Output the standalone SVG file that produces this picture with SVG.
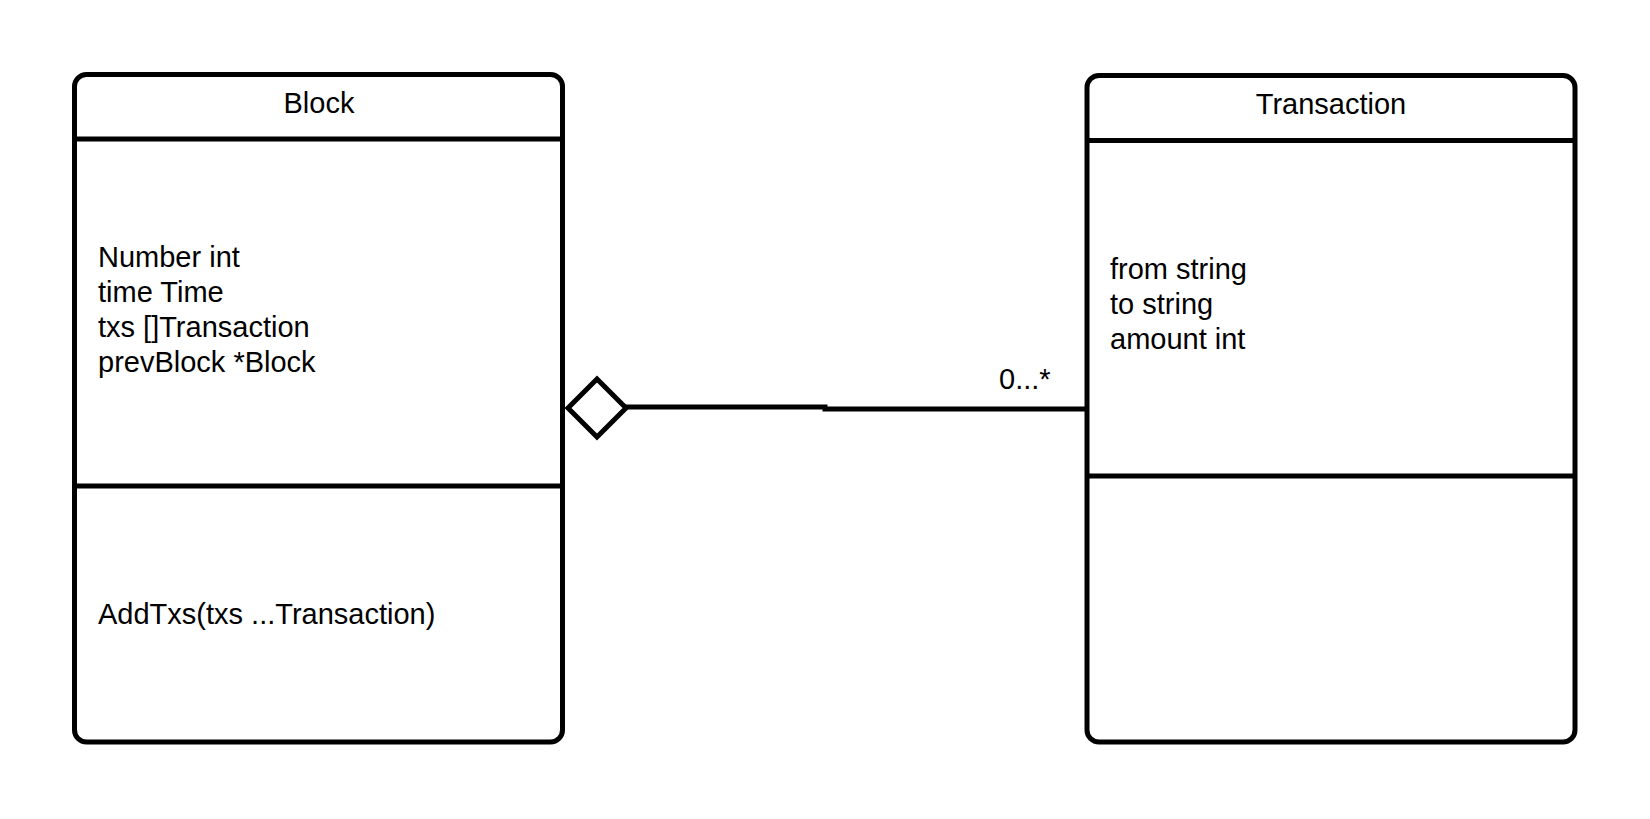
<svg xmlns="http://www.w3.org/2000/svg" width="1650" height="819" viewBox="0 0 1650 819">
<style>
.box{fill:#fff;stroke:#000;stroke-width:5}
.div{stroke:#000;stroke-width:5;fill:none}
.t{font-family:"Liberation Sans",Arial,sans-serif;font-size:29px;fill:#000}
.c{text-anchor:middle}
.conn{stroke:#000;stroke-width:5;fill:none}
</style>
<rect width="1650" height="819" fill="#fff"/>
<g id="block">
<rect class="box" x="74.5" y="74.5" width="488" height="667.5" rx="12" ry="12"/>
<line class="div" x1="74.5" y1="139" x2="562.5" y2="139"/>
<line class="div" x1="74.5" y1="486" x2="562.5" y2="486"/>
<text class="t c" x="319" y="113">Block</text>
<text class="t" x="98" y="267">Number int</text>
<text class="t" x="98" y="302">time Time</text>
<text class="t" x="98" y="337">txs []Transaction</text>
<text class="t" x="98" y="372">prevBlock *Block</text>
<text class="t" x="98" y="624">AddTxs(txs ...Transaction)</text>
</g>
<g id="transaction">
<rect class="box" x="1087" y="75.5" width="488" height="666.5" rx="12" ry="12"/>
<line class="div" x1="1087" y1="140.5" x2="1575" y2="140.5"/>
<line class="div" x1="1087" y1="476" x2="1575" y2="476"/>
<text class="t c" x="1331" y="114">Transaction</text>
<text class="t" x="1110" y="279">from string</text>
<text class="t" x="1110" y="314">to string</text>
<text class="t" x="1110" y="349">amount int</text>
</g>
<g id="connectors">
<path class="conn" d="M626,407 H825 V409 H1087"/>
<polygon class="conn" fill="#fff" points="568,408 597,379 626,408 597,437"/>
<text class="t" x="999" y="389">0...*</text>
</g>
</svg>
